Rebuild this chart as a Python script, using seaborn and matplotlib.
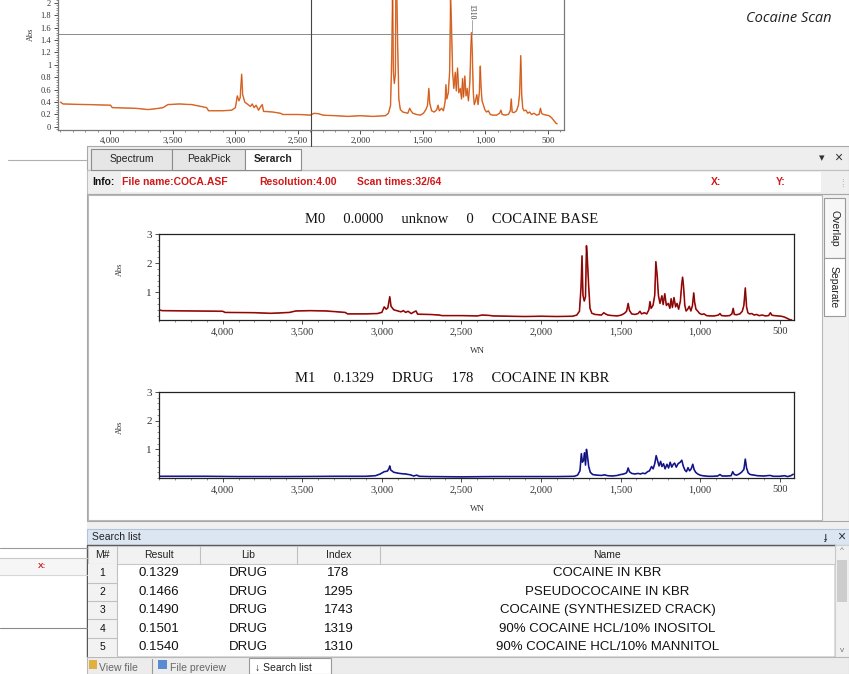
import pandas as pd
import seaborn as sns
import matplotlib
matplotlib.use("Agg")
import matplotlib.pyplot as plt
from matplotlib.patches import Rectangle
from matplotlib.lines import Line2D
from matplotlib.ticker import FixedLocator, AutoMinorLocator, FuncFormatter

W, H = 849, 674

# spectrum of the scanned sample (wavenumber, absorbance) - used by the top view and M0
sample_spec = [
    (4400, 0.40), (4380, 0.37), (4200, 0.36), (4000, 0.35), (3985, 0.31), (3800, 0.30),
    (3700, 0.28), (3650, 0.29), (3580, 0.31), (3540, 0.36), (3450, 0.37), (3350, 0.36),
    (3300, 0.34), (3230, 0.31), (3215, 0.26), (3100, 0.26), (3030, 0.27), (3000, 0.31),
    (2985, 0.50), (2972, 0.42), (2962, 0.47), (2950, 0.85), (2942, 0.52), (2925, 0.40),
    (2900, 0.36), (2880, 0.33), (2865, 0.37), (2850, 0.31), (2835, 0.35), (2815, 0.27),
    (2800, 0.32), (2785, 0.36), (2775, 0.25), (2700, 0.24), (2640, 0.22), (2620, 0.20),
    (2500, 0.20), (2400, 0.19), (2370, 0.22), (2330, 0.21), (2300, 0.19), (2200, 0.18),
    (2100, 0.17), (2000, 0.18), (1900, 0.17), (1800, 0.18), (1775, 0.22), (1758, 0.35),
    (1748, 1.20), (1742, 2.25), (1736, 0.90), (1728, 0.70), (1720, 0.85), (1714, 2.60),
    (1708, 2.10), (1700, 1.20), (1692, 0.45), (1680, 0.28), (1660, 0.24), (1620, 0.22),
    (1605, 0.30), (1595, 0.26), (1580, 0.22), (1550, 0.20), (1520, 0.19), (1495, 0.22),
    (1475, 0.28), (1462, 0.35), (1452, 0.62), (1444, 0.38), (1430, 0.26), (1410, 0.24),
    (1390, 0.27), (1378, 0.35), (1368, 0.26), (1350, 0.30), (1335, 0.26), (1322, 0.40),
    (1315, 0.68), (1308, 0.45), (1296, 0.55), (1285, 0.90), (1278, 2.05), (1270, 1.60),
    (1262, 0.90), (1252, 0.62), (1240, 0.88), (1232, 0.58), (1222, 0.95), (1212, 0.55),
    (1200, 0.62), (1190, 0.45), (1182, 0.78), (1174, 0.48), (1164, 0.82), (1154, 0.50),
    (1145, 0.62), (1135, 0.42), (1124, 0.70), (1116, 1.25), (1110, 1.52), (1104, 1.20),
    (1096, 0.55), (1088, 0.36), (1078, 0.42), (1068, 0.52), (1058, 0.36), (1048, 0.55),
    (1040, 0.98), (1034, 0.65), (1026, 0.42), (1016, 0.36), (1004, 0.28), (990, 0.24),
    (975, 0.26), (960, 0.20), (940, 0.19), (910, 0.19), (885, 0.22), (875, 0.27),
    (865, 0.20), (840, 0.19), (815, 0.20), (800, 0.26), (792, 0.45), (785, 0.24),
    (770, 0.23), (750, 0.26), (735, 0.35), (725, 0.55), (716, 1.15), (708, 0.50),
    (700, 0.30), (690, 0.26), (675, 0.27), (660, 0.22), (645, 0.24), (630, 0.20),
    (610, 0.22), (590, 0.19), (570, 0.20), (558, 0.30), (550, 0.22), (535, 0.20),
    (510, 0.19), (490, 0.18), (470, 0.15), (450, 0.10), (435, 0.06), (425, 0.05),
]

# library spectrum of the best hit, COCAINE IN KBR (M1)
kbr_spec = [
    (4400, 0.06), (4100, 0.06), (3900, 0.05), (3600, 0.05), (3300, 0.06), (3100, 0.06),
    (3040, 0.08), (3010, 0.14), (2985, 0.22), (2965, 0.24), (2955, 0.33), (2950, 0.42),
    (2944, 0.28), (2925, 0.20), (2900, 0.17), (2875, 0.15), (2850, 0.14), (2820, 0.11),
    (2800, 0.07), (2780, 0.10), (2765, 0.06), (2700, 0.05), (2500, 0.04), (2300, 0.05),
    (2100, 0.05), (1900, 0.05), (1790, 0.06), (1770, 0.10), (1755, 0.25), (1746, 0.85),
    (1740, 0.55), (1732, 0.62), (1726, 0.88), (1720, 0.45), (1714, 1.00), (1708, 0.78),
    (1700, 0.40), (1690, 0.20), (1675, 0.12), (1650, 0.10), (1620, 0.09), (1600, 0.11),
    (1580, 0.08), (1550, 0.07), (1520, 0.09), (1500, 0.12), (1480, 0.14), (1462, 0.18),
    (1452, 0.35), (1444, 0.22), (1430, 0.16), (1410, 0.14), (1390, 0.16), (1375, 0.14),
    (1360, 0.17), (1345, 0.15), (1330, 0.22), (1318, 0.25), (1305, 0.40), (1295, 0.32),
    (1285, 0.50), (1276, 0.78), (1268, 0.62), (1258, 0.42), (1248, 0.58), (1240, 0.40),
    (1230, 0.50), (1220, 0.32), (1208, 0.48), (1198, 0.35), (1188, 0.55), (1178, 0.38),
    (1168, 0.48), (1160, 0.52), (1150, 0.38), (1138, 0.50), (1125, 0.55), (1115, 0.62),
    (1106, 0.42), (1096, 0.28), (1086, 0.22), (1076, 0.36), (1066, 0.25), (1056, 0.32),
    (1046, 0.48), (1038, 0.30), (1028, 0.20), (1015, 0.14), (1000, 0.10), (985, 0.08),
    (950, 0.06), (920, 0.06), (890, 0.07), (875, 0.12), (862, 0.07), (830, 0.07),
    (805, 0.08), (795, 0.22), (785, 0.12), (770, 0.10), (755, 0.14), (740, 0.20),
    (725, 0.30), (716, 0.66), (708, 0.35), (698, 0.18), (685, 0.12), (660, 0.10),
    (640, 0.08), (600, 0.07), (560, 0.09), (540, 0.06), (500, 0.06), (470, 0.08),
    (450, 0.05), (430, 0.08), (415, 0.13),
]

wn_ticks = [4000, 3500, 3000, 2500, 2000, 1500, 1000, 500]
top_abs_ticks = [0, 0.2, 0.4, 0.6, 0.8, 1, 1.2, 1.4, 1.6, 1.8, 2]
res_abs_ticks = [1, 2, 3]

cursor_wn, cursor_abs = 2395, 1.5
peak_label = "1310"
peak_wn = 1110

m0_title = ["M0", "0.0000", "unknow", "0", "COCAINE BASE"]
m1_title = ["M1", "0.1329", "DRUG", "178", "COCAINE IN KBR"]

info_items = ["File name:COCA.ASF", "Resolution:4.00", "Scan times:32/64"]

hit_rank = ["1", "2", "3", "4", "5"]
hit_result = ["0.1329", "0.1466", "0.1490", "0.1501", "0.1540"]
hit_lib = ["DRUG", "DRUG", "DRUG", "DRUG", "DRUG"]
hit_index = ["178", "1295", "1743", "1319", "1310"]
hit_name = ["COCAINE IN KBR", "PSEUDOCOCAINE IN KBR", "COCAINE (SYNTHESIZED CRACK)",
            "90% COCAINE HCL/10% INOSITOL", "90% COCAINE HCL/10% MANNITOL"]
col_heads = ["M#", "Result", "Lib", "Index", "Name"]

sns.set_theme(style="white")
SERIF = ["Liberation Serif", "DejaVu Serif"]
UI = ["Liberation Sans Narrow", "Liberation Sans", "DejaVu Sans"]
plt.rcParams["font.family"] = UI

fig = plt.figure(figsize=(W / 100, H / 100), dpi=100)
fig.patch.set_facecolor("white")


# helpers in screen pixels (origin top-left)
def box(x, y, w, h, fc="white", ec="none", lw=0.8, z=-5):
    fig.add_artist(Rectangle((x / W, 1 - (y + h) / H), w / W, h / H, transform=fig.transFigure,
                             facecolor=fc, edgecolor=ec, linewidth=lw, zorder=z))


def hline(x0, x1, y, color="#a0a0a0", lw=0.8, z=-4):
    fig.add_artist(Line2D([x0 / W, x1 / W], [1 - y / H] * 2, transform=fig.transFigure,
                          color=color, linewidth=lw, zorder=z))


def vline(x, y0, y1, color="#a0a0a0", lw=0.8, z=-4):
    fig.add_artist(Line2D([x / W] * 2, [1 - y0 / H, 1 - y1 / H], transform=fig.transFigure,
                          color=color, linewidth=lw, zorder=z))


def txt(x, y, s, **kw):
    kw.setdefault("va", "center")
    kw.setdefault("ha", "left")
    return fig.text(x / W, 1 - y / H, s, **kw)


def add_ax(l, t, r, b):
    return fig.add_axes([l / W, 1 - b / H, (r - l) / W, (b - t) / H])


def spec_df(points):
    return pd.DataFrame(points, columns=["wn", "abs"])


def draw_spec(ax, points, light, dark, lw_light, lw_dark):
    df = spec_df(points)
    sns.lineplot(data=df, x="wn", y="abs", ax=ax, sort=False, estimator=None,
                 color=light, linewidth=lw_light)
    sns.lineplot(data=df, x="wn", y="abs", ax=ax, sort=False, estimator=None,
                 color=dark, linewidth=lw_dark)


def style_axes(ax, yticks, yfmt, xsize, ysize, spine_col):
    ax.set_xlabel("")
    ax.set_ylabel("")
    ax.xaxis.set_major_locator(FixedLocator(wn_ticks))
    ax.xaxis.set_major_formatter(FuncFormatter(lambda v, p: f"{int(round(v)):,}"))
    ax.xaxis.set_minor_locator(AutoMinorLocator(5))
    ax.yaxis.set_major_locator(FixedLocator(yticks))
    ax.yaxis.set_major_formatter(FuncFormatter(yfmt))
    ax.yaxis.set_minor_locator(AutoMinorLocator(5))
    ax.tick_params(which="major", direction="out", length=3, width=0.6, colors="#333333",
                   pad=2, bottom=True, left=True)
    ax.tick_params(axis="x", labelsize=xsize)
    ax.tick_params(axis="y", labelsize=ysize)
    ax.tick_params(which="minor", direction="out", length=1.5, width=0.5, colors="#666666",
                   bottom=True, left=True)
    for lab in ax.get_xticklabels() + ax.get_yticklabels():
        lab.set_family(SERIF)
        lab.set_color("#333333")
    for sp in ax.spines.values():
        sp.set_color(spine_col)
        sp.set_linewidth(0.9)


# ---------------- top (main) spectrum view ----------------
ax_top = add_ax(58, -12, 564, 130)
draw_spec(ax_top, sample_spec, "#ec8a4a", "#c2501c", 1.1, 0.45)
ax_top.set_xlim(4420, 370)
ax_top.set_ylim(-0.05, 2.24)
style_axes(ax_top, top_abs_ticks, lambda v, p: f"{v:g}", 6.5, 6, "#7a7a7a")
ax_top.axhline(cursor_abs, color="#8a8a8a", linewidth=0.7)
ax_top.axvline(cursor_wn, ymin=-0.115, ymax=1, color="#444444", linewidth=0.8, clip_on=False)
ax_top.plot([peak_wn, peak_wn], [cursor_abs + 0.02, 1.72], color="#9a9a9a", linewidth=0.6)
ax_top.text(peak_wn, 1.99, peak_label, rotation=270, ha="center", va="top",
            fontsize=5.5, family=SERIF, color="#333333")
txt(31, 34, "Abs", rotation=90, ha="center", fontsize=6, family=SERIF, color="#333333")

txt(832, 18, "Cocaine Scan", ha="right", fontsize=10.5, style="italic",
    family=["Open Sans", "DejaVu Sans"], color="#222222")

# left-hand window fragments
hline(8, 86, 160, color="#b0b0b0")
hline(0, 87, 548, color="#9a9a9a")
box(0, 558, 87, 17, fc="#f6f6f6", z=-6)
hline(0, 87, 558, color="#c8c8c8")
hline(0, 87, 575, color="#d8d8d8")
txt(42, 566, "X:", ha="center", fontsize=6, color="#d02020", fontweight="bold")
hline(0, 87, 628, color="#8a8a8a")

# ---------------- search window ----------------
box(87, 146, 762, 24, fc="#eeeeee", ec="#a8a8a8")
tabs = [("Spectrum", 91, 81, "#e6e6e6", "normal"), ("PeakPick", 172, 73, "#e6e6e6", "normal"),
        ("Serarch", 245, 56, "white", "bold")]
for name, tx, tw, tfc, tw8 in tabs:
    box(tx, 149, tw, 21, fc=tfc, ec="#8c8c8c", z=-4)
    txt(tx + tw / 2, 159, name, ha="center", fontsize=7.5, fontweight=tw8, color="#222222")
txt(822, 158, "▾", ha="center", fontsize=8, color="#333333")
txt(838, 158, "×", ha="center", fontsize=10, color="#333333")

box(87, 170, 762, 24, fc="#efefef", ec="#c0c0c0")
box(121, 172, 700, 20, fc="white", z=-4)
txt(92, 182, "Info:", fontsize=7.5, fontweight="bold", color="#111111")
for s, x in zip(info_items, [122, 259, 357]):
    txt(x, 182, s, fontsize=7.5, fontweight="bold", color="#d01818")
txt(711, 182, "X:", fontsize=7.5, fontweight="bold", color="#d01818")
txt(776, 182, "Y:", fontsize=7.5, fontweight="bold", color="#d01818")
txt(842, 184, "⁞", ha="center", fontsize=7, color="#9a9a9a")

box(87, 194, 762, 327, fc="#f0f0f0", ec="#a8a8a8")
box(88, 195, 734, 325, fc="white", ec="#b8b8b8")
box(824, 198, 21, 60, fc="#f7f7f7", ec="#9a9a9a", z=-4)
box(824, 258, 21, 58, fc="white", ec="#9a9a9a", z=-4)
txt(834, 228, "Overlap", rotation=270, ha="center", fontsize=7.5, color="#222222")
txt(834, 287, "Separate", rotation=270, ha="center", fontsize=7.5, color="#222222")

# M0 = the sample itself, M1 = best library hit
panels = [(m0_title, sample_spec, 234, 320, (0.05, 3.0), "#d41a1a", "#4a0c0c"),
          (m1_title, kbr_spec, 392, 478, (0.0, 3.0), "#2a2ad0", "#10103c")]
for title, spec, t, b, ylim, light, dark in panels:
    ax = add_ax(159, t, 794, b)
    draw_spec(ax, spec, light, dark, 1.2, 0.5)
    ax.set_xlim(4400, 410)
    ax.set_ylim(*ylim)
    style_axes(ax, res_abs_ticks, lambda v, p: f"{int(v)}", 7.5, 8, "#222222")
    txt(452, t - 14, "     ".join(title), ha="center", fontsize=10.5, family=SERIF,
        color="#111111")
    txt(120, (t + b) / 2 - 8, "Abs", rotation=90, ha="center", fontsize=6, family=SERIF,
        color="#333333")
    txt(477, b + 31, "WN", ha="center", fontsize=6.5, family=SERIF, color="#333333")

# ---------------- search list ----------------
box(87, 521, 762, 9, fc="#f0f0f0", z=-6)
box(87, 529, 762, 16, fc="#dce6f2", ec="#b4c4d8")
txt(92, 537, "Search list", fontsize=7.5, color="#222222")
txt(826, 537, "ɟ", ha="center", fontsize=8, color="#333333")
txt(841, 537, "×", ha="center", fontsize=10, color="#333333")

col_edges = [88, 117, 200, 297, 380, 835]
row_edges = [564, 583, 601, 619, 638, 657]
box(87, 545, 748, 112, fc="white", ec="#555555", lw=1.0)
box(88, 546, 747, 18, fc="#f2f2f2", ec="#c8c8c8", z=-4)
box(88, 564, 29, 93, fc="#f2f2f2", z=-4)
for x in col_edges[1:-1]:
    vline(x, 546, 564, color="#c0c0c0")
vline(117, 564, 657, color="#c0c0c0")
for y in row_edges[1:-1]:
    hline(88, 117, y, color="#c0c0c0")
for head, l, r in zip(col_heads, col_edges[:-1], col_edges[1:]):
    txt((l + r) / 2, 555, head, ha="center", fontsize=7.5, color="#222222")

columns = [hit_rank, hit_result, hit_lib, hit_index, hit_name]
for i in range(len(hit_rank)):
    yc = (row_edges[i] + row_edges[i + 1]) / 2
    for j, col in enumerate(columns):
        xc = (col_edges[j] + col_edges[j + 1]) / 2
        size = 7.5 if j == 0 else 9.5
        txt(xc, yc, col[i], ha="center", fontsize=size, color="#111111")

# scrollbar
box(835, 545, 14, 112, fc="#f0f0f0", ec="#cfcfcf")
box(837, 560, 10, 42, fc="#cdcdcd", z=-4)
txt(842, 551, "^", ha="center", fontsize=6, color="#777777")
txt(842, 650, "v", ha="center", fontsize=6, color="#777777")

# bottom tabs
box(87, 657, 762, 17, fc="#ececec", ec="#b8b8b8")
box(89, 660, 8, 9, fc="#e0b040", z=-4)
txt(99, 668, "View file", fontsize=7.5, color="#666666")
vline(152, 659, 674, color="#999999")
box(158, 660, 9, 9, fc="#5a8ad0", z=-4)
txt(170, 668, "File preview", fontsize=7.5, color="#666666")
box(249, 658, 82, 16, fc="white", ec="#999999", z=-4)
txt(255, 668, "↓ Search list", fontsize=7.5, color="#222222")

fig.savefig("out.png", dpi=100, facecolor="white")
